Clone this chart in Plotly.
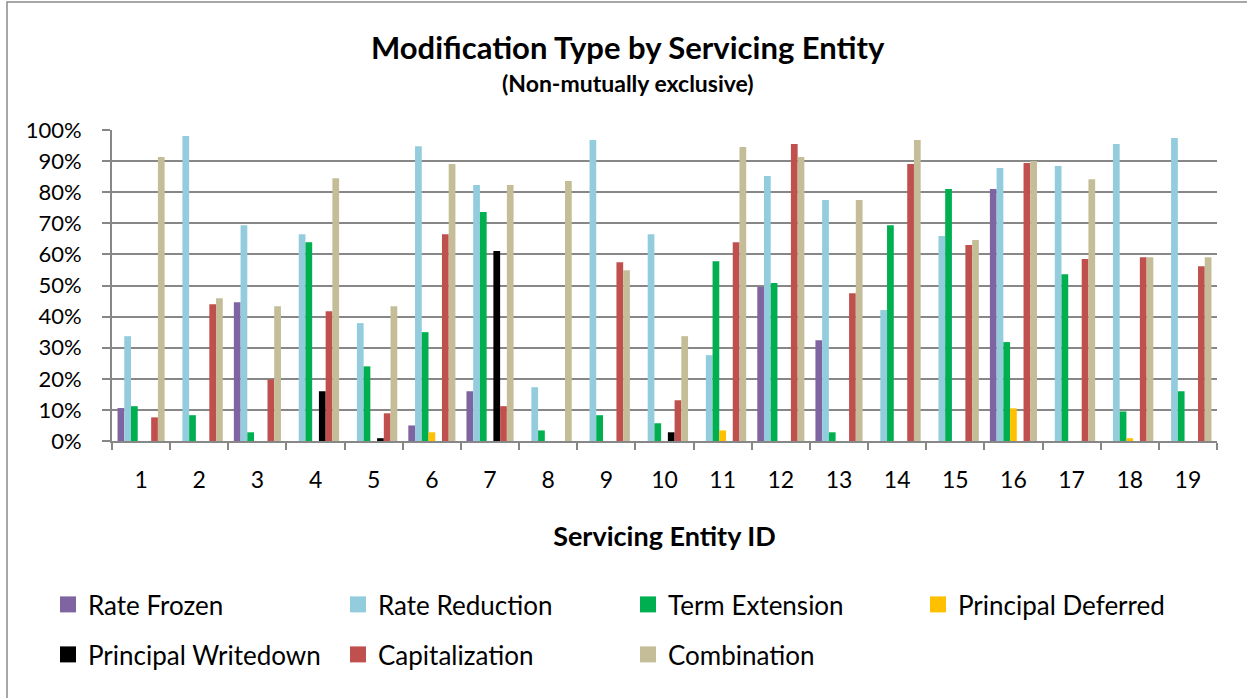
import plotly.graph_objects as go

entities = [str(i) for i in range(1, 20)]

rate_frozen = [10.6, 0, 44.6, 0, 0, 5.0, 16.0, 0, 0, 0, 0, 49.5, 32.4, 0, 0, 81.0, 0, 0, 0]
rate_reduction = [33.7, 98.1, 69.4, 66.5, 37.9, 94.8, 82.3, 17.3, 96.8, 66.5, 27.6, 85.2, 77.5, 42.1, 65.9, 87.8, 88.4, 95.5, 97.4]
term_extension = [11.2, 8.3, 2.8, 63.9, 24.0, 35.0, 73.6, 3.4, 8.3, 5.7, 57.8, 50.8, 2.8, 69.4, 81.0, 31.8, 53.6, 9.5, 16.0]
principal_deferred = [0, 0, 0, 0, 0, 2.8, 0, 0, 0, 0, 3.4, 0, 0, 0, 0, 10.5, 0, 0.9, 0]
principal_writedown = [0, 0, 0, 16.0, 0.9, 0, 61.1, 0, 0, 2.8, 0, 0, 0, 0, 0, 0, 0, 0, 0]
capitalization = [7.6, 44.0, 19.8, 41.7, 8.9, 66.5, 11.2, 0, 57.5, 13.1, 63.9, 95.5, 47.5, 89.1, 63.0, 89.4, 58.5, 59.1, 56.2]
combination = [91.3, 45.9, 43.3, 84.5, 43.3, 89.1, 82.3, 83.6, 54.9, 33.7, 94.5, 91.3, 77.5, 96.8, 64.6, 90.0, 84.2, 59.1, 59.1]

series = [
    ("Rate Frozen", rate_frozen, "#8064A2", "legend"),
    ("Rate Reduction", rate_reduction, "#93CDDD", "legend"),
    ("Term Extension", term_extension, "#00B050", "legend"),
    ("Principal Deferred", principal_deferred, "#FFC000", "legend"),
    ("Principal Writedown", principal_writedown, "#000000", "legend2"),
    ("Capitalization", capitalization, "#C0504D", "legend2"),
    ("Combination", combination, "#C4BD97", "legend2"),
]

FONT = "Lato, 'Open Sans', sans-serif"
GRID = "#878787"

W, H = 1247, 698
L, R, T, B = 112, 30, 130, 257
pw, ph = W - L - R, H - T - B


def px(x):
    return (x - L) / pw


def py(y):
    return (H - B - y) / ph


fig = go.Figure()
for name, vals, color, lg in series:
    fig.add_trace(go.Bar(
        x=entities, y=[v / 100 for v in vals], name=name,
        marker=dict(color=color, line=dict(width=0)),
        showlegend=False,
    ))
for name, vals, color, lg in series:
    fig.add_trace(go.Scatter(
        x=[None], y=[None], mode="markers", name=name,
        marker=dict(color=color, symbol="square", size=16, line=dict(width=0)),
        legend=lg, showlegend=True,
    ))

legend_common = dict(orientation="h", xanchor="left", yanchor="top",
                     entrywidth=245, entrywidthmode="pixels", font=dict(size=26),
                     bgcolor="rgba(0,0,0,0)", itemclick=False, itemdoubleclick=False,
                     itemsizing="trace")

fig.update_layout(
    width=W, height=H,
    margin=dict(l=L, r=R, t=T, b=B),
    paper_bgcolor="white", plot_bgcolor="white",
    font=dict(family=FONT, color="black"),
    barmode="group", bargap=0.19, bargroupgap=0,
    showlegend=True,
    legend=dict(x=px(48), y=py(581), **legend_common),
    legend2=dict(x=px(48), y=py(631), **legend_common),
    xaxis=dict(
        type="category", showgrid=False, showline=True, linecolor=GRID, linewidth=2,
        ticks="outside", tickson="boundaries", ticklen=7, tickcolor=GRID, tickwidth=2,
        tickfont=dict(size=23), ticklabelstandoff=17,
        title=dict(text="<b>Servicing Entity ID</b>", font=dict(size=27), standoff=36),
        fixedrange=True,
    ),
    yaxis=dict(
        range=[0, 1], dtick=0.1, tickformat=".0%", showgrid=True, gridcolor=GRID, gridwidth=2,
        showline=True, linecolor=GRID, linewidth=2, ticks="outside", ticklen=8,
        tickcolor=GRID, tickwidth=2, tickfont=dict(size=22), ticklabelstandoff=16,
        zeroline=False, fixedrange=True,
    ),
    annotations=[
        dict(text="<b>Modification Type by Servicing Entity</b>", xref="paper", yref="paper",
             x=px(628), y=py(47), xanchor="center", yanchor="middle", showarrow=False,
             font=dict(size=31)),
        dict(text="<b>(Non-mutually exclusive)</b>", xref="paper", yref="paper",
             x=px(628), y=py(83), xanchor="center", yanchor="middle", showarrow=False,
             font=dict(size=23)),
    ],
    shapes=[
        dict(type="rect", xref="paper", yref="paper", x0=px(7), x1=px(1260), y0=py(710), y1=py(2),
             line=dict(color="#8a8a8a", width=1.5), fillcolor="rgba(0,0,0,0)", layer="below"),
    ],
)

fig.write_html("out.html", config={"displayModeBar": False},
               post_script="document.body.style.margin='0px';")
